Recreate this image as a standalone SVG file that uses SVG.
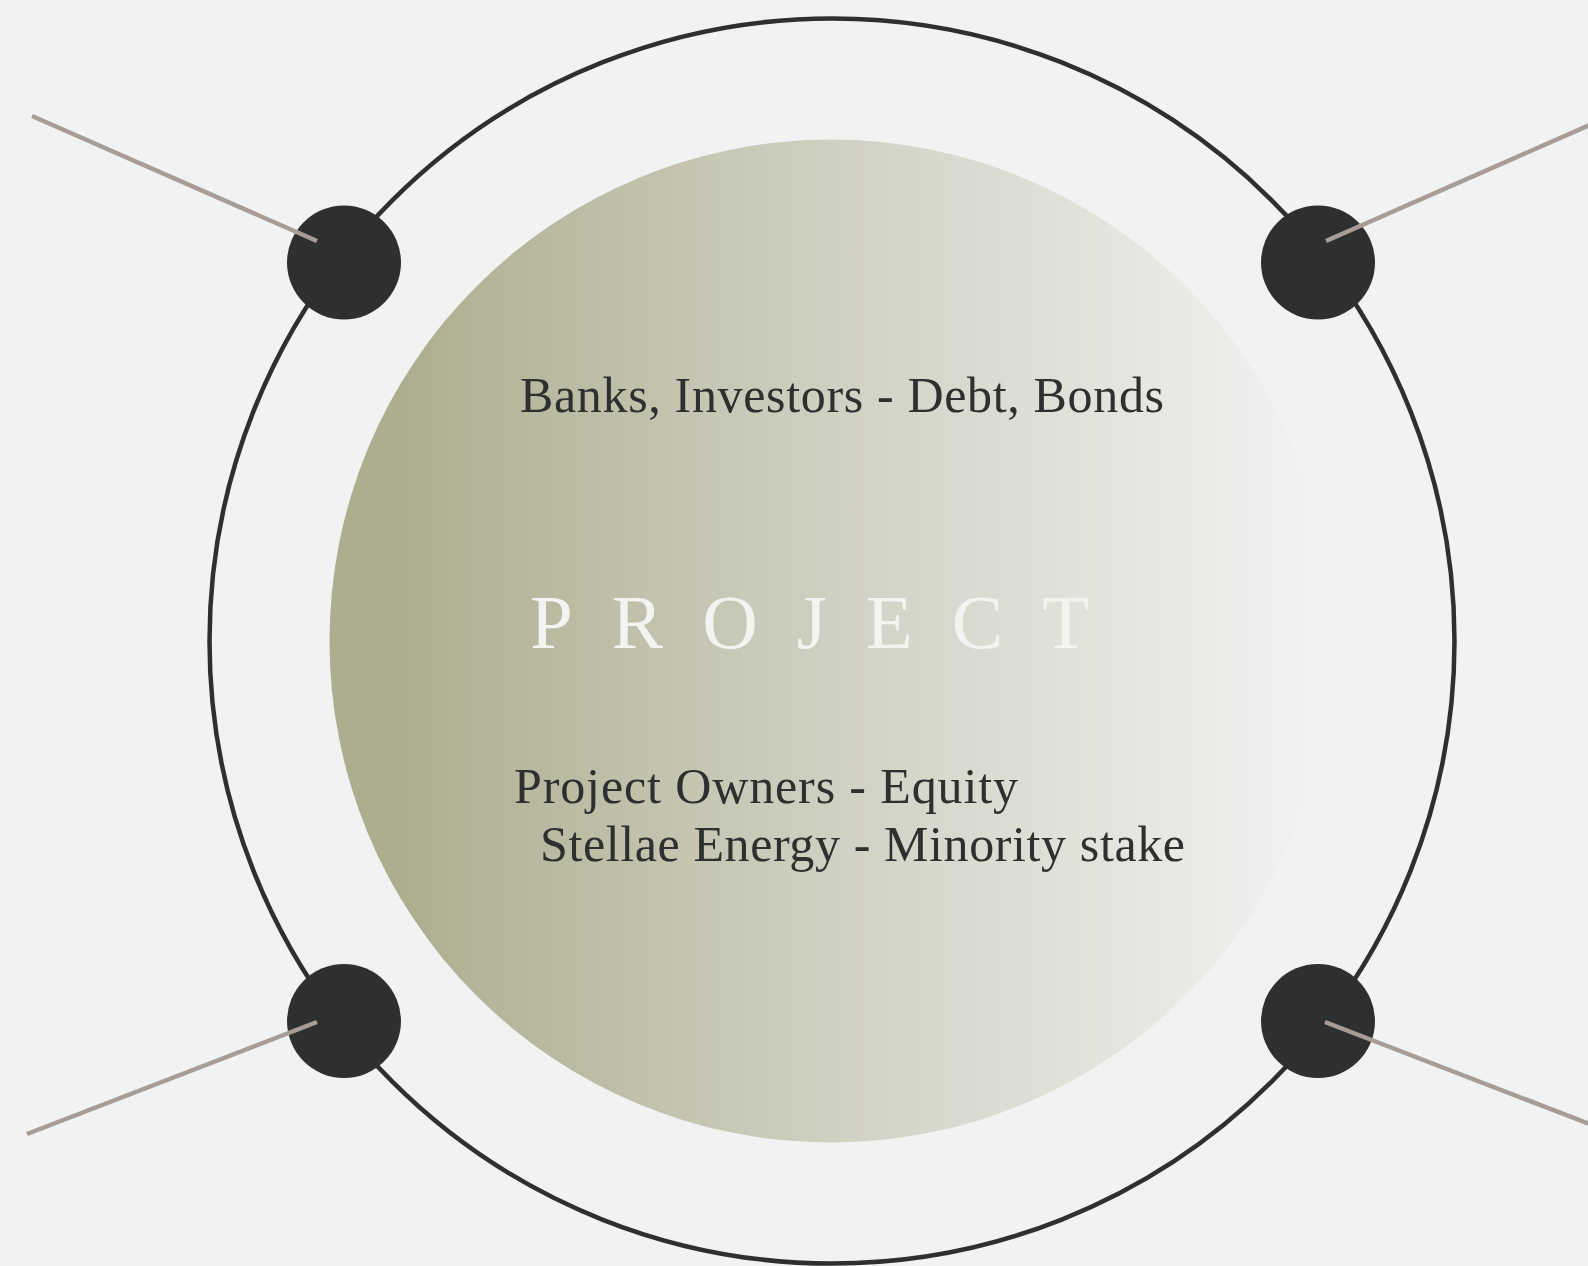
<svg xmlns="http://www.w3.org/2000/svg" width="1588" height="1266" viewBox="0 0 1588 1266">
<defs>
<linearGradient id="g" x1="0" y1="0" x2="1" y2="0">
<stop offset="0.07" stop-color="#adae90"/>
<stop offset="0.5" stop-color="#d0d0c2"/>
<stop offset="0.97" stop-color="#f2f1f1"/>
</linearGradient>
<style>
.ring{fill:none;stroke:#2e302f;stroke-width:4.5}
.dot{fill:#2e302f}
.link{stroke:#a89d96;stroke-width:4.5;fill:none}
.lbl{font-family:"Liberation Serif","DejaVu Serif",serif;font-size:50px;fill:#2e302f}
.title{font-family:"Liberation Serif","DejaVu Serif",serif;font-size:77px;fill:#f3f3f2;letter-spacing:39px}
</style>
</defs>
<rect width="1588" height="1266" fill="#f1f3f2"/>
<g id="outer-ring"><circle class="ring" cx="832" cy="641" r="622.5"/></g>
<g id="project">
<circle cx="831" cy="641" r="501.5" fill="url(#g)"/>
<text class="lbl" x="520" y="412" textLength="644" lengthAdjust="spacing">Banks, Investors - Debt, Bonds</text>
<text class="title" x="530" y="648">PROJECT</text>
<text class="lbl" x="514" y="803" textLength="504" lengthAdjust="spacing">Project Owners - Equity</text>
<text class="lbl" x="540" y="861" textLength="645" lengthAdjust="spacing">Stellae Energy - Minority stake</text>
</g>
<g id="node-tl"><circle class="dot" cx="344" cy="262.5" r="57"/></g>
<g id="node-tr"><circle class="dot" cx="1318" cy="262.5" r="57"/></g>
<g id="node-bl"><circle class="dot" cx="344" cy="1021" r="57"/></g>
<g id="node-br"><circle class="dot" cx="1318" cy="1021" r="57"/></g>
<g id="connectors">
<line class="link" x1="32" y1="116" x2="317" y2="241"/>
<line class="link" x1="1326" y1="241" x2="1592" y2="124"/>
<line class="link" x1="317" y1="1022" x2="27" y2="1134"/>
<line class="link" x1="1325" y1="1022" x2="1592" y2="1125"/>
</g>
</svg>
